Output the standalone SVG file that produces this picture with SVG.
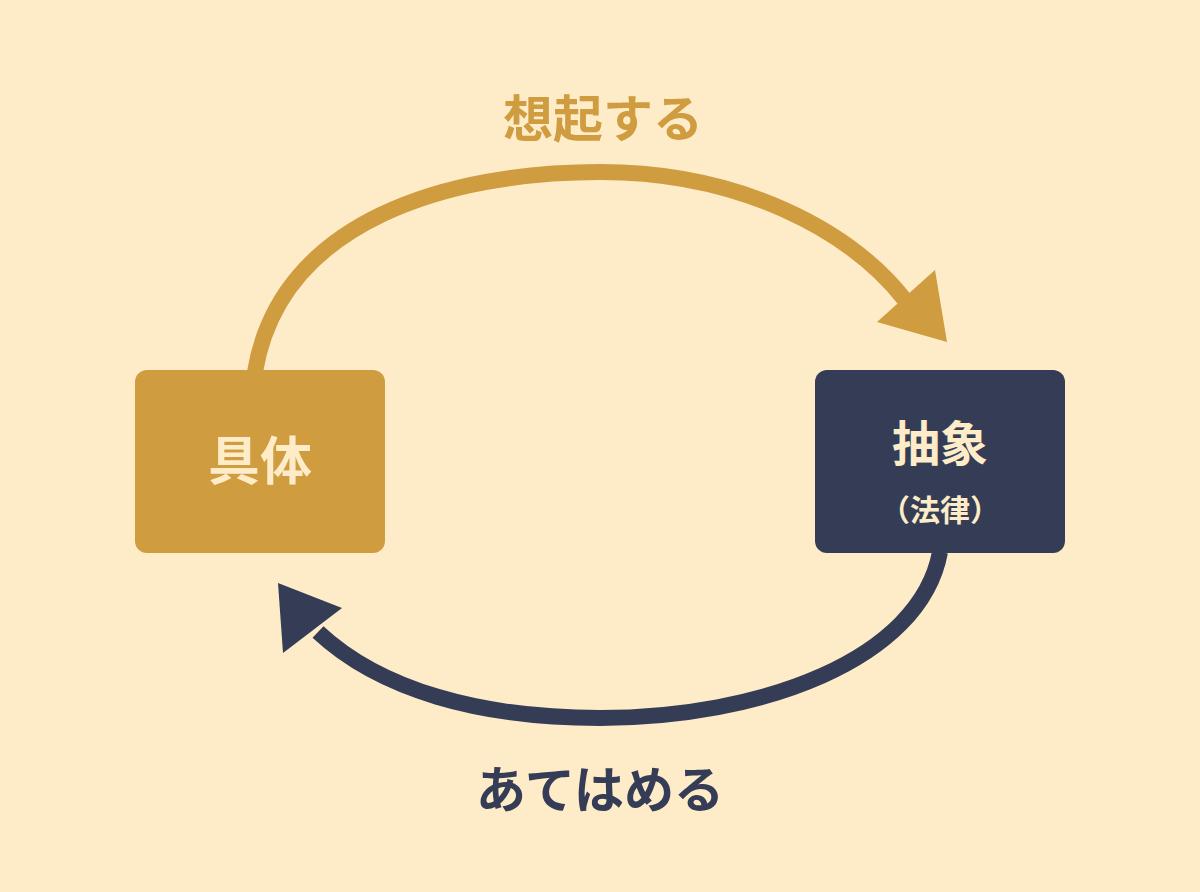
<svg xmlns="http://www.w3.org/2000/svg" width="1200" height="892" viewBox="0 0 1200 892">
<style>
.t{font-family:"Noto Sans CJK JP",sans-serif;font-weight:700;text-anchor:middle}
.lt{fill:#FEEBC7}
</style>
<rect width="1200" height="892" fill="#FEEBC7"/>
<g id="connectors" fill="none" stroke-width="16">
<path d="M255,372 C 280,220 450,172 600,172 C 740,172 850,230 905,300" stroke="#CF9C40"/>
<polygon points="947,342 877,322 935,270" fill="#CF9C40"/>
<path d="M940,552 C 920,660 760,718 600,718 C 480,718 380,690 318,632" stroke="#343C56"/>
<polygon points="278,583 283,653 342,608" fill="#343C56"/>
</g>
<g id="label-top"><text class="t" x="603" y="137" font-size="50" fill="#CF9C40">想起する</text></g>
<g id="label-bottom"><text class="t" x="600" y="808" font-size="50" fill="#343C56">あてはめる</text></g>
<g id="node-concrete">
<rect x="135" y="370" width="250" height="183" rx="12" fill="#CF9C40"/>
<text class="t lt" x="260" y="480" font-size="52">具体</text>
</g>
<g id="node-abstract">
<rect x="815" y="370" width="250" height="183" rx="12" fill="#343C56"/>
<text class="t lt" x="940" y="461" font-size="48">抽象</text>
<text class="t lt" x="940" y="521" font-size="30">（法律）</text>
</g>
</svg>
